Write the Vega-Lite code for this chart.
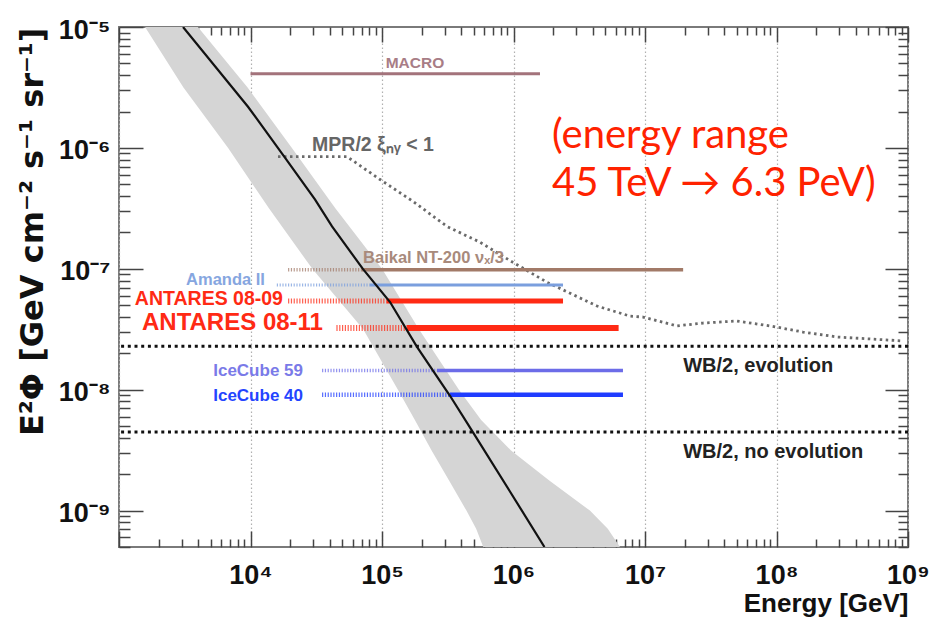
{
  "$schema": "https://vega.github.io/schema/vega-lite/v6.json",
  "width": 789,
  "height": 520,
  "autosize": {"type": "none"},
  "padding": {"left": 119, "top": 27, "right": 21, "bottom": 74},
  "background": "white",
  "config": {"view": {"stroke": "#7a7a7a", "strokeWidth": 2}, "font": "Liberation Sans"},
  "datasets": {
    "band": [
      {"F": 1e-5, "L": 1578, "R": 3981},
      {"F": 3.162e-6, "L": 3090, "R": 9506},
      {"F": 1e-6, "L": 6761, "R": 20654},
      {"F": 3.162e-7, "L": 13804, "R": 44157},
      {"F": 1e-7, "L": 29512, "R": 100000},
      {"F": 3.162e-8, "L": 71945, "R": 190985},
      {"F": 1e-8, "L": 132130, "R": 384592},
      {"F": 5.623e-9, "L": 177828, "R": 567545},
      {"F": 3.162e-9, "L": 237684, "R": 952796},
      {"F": 1.778e-9, "L": 323594, "R": 1870868},
      {"F": 1e-9, "L": 438531, "R": 3810719},
      {"F": 7.08e-10, "L": 520000, "R": 5210000},
      {"F": 5e-10, "L": 588844, "R": 6456542}
    ],
    "fit": [
      {"E": 3069, "F": 1e-5},
      {"E": 9572, "F": 2.19e-6},
      {"E": 18281, "F": 8.32e-7},
      {"E": 30903, "F": 3.75e-7},
      {"E": 41687, "F": 2.24e-7},
      {"E": 71779, "F": 9.93e-8},
      {"E": 115080, "F": 5.31e-8},
      {"E": 184502, "F": 2.26e-8},
      {"E": 328852, "F": 8.91e-9},
      {"E": 483059, "F": 4.58e-9},
      {"E": 939723, "F": 1.44e-9},
      {"E": 1720000, "F": 5e-10}
    ],
    "mpr": [
      {"E": 16181, "F": 8.47e-7},
      {"E": 54200, "F": 8.47e-7},
      {"E": 96605, "F": 5.48e-7},
      {"E": 172187, "F": 3.61e-7},
      {"E": 311889, "F": 2.24e-7},
      {"E": 555904, "F": 1.66e-7},
      {"E": 990832, "F": 1.13e-7},
      {"E": 1798871, "F": 7.74e-8},
      {"E": 4315191, "F": 4.92e-8},
      {"E": 7691304, "F": 4.06e-8},
      {"E": 9660000, "F": 3.99e-8},
      {"E": 17500000, "F": 3.37e-8},
      {"E": 27600000, "F": 3.56e-8},
      {"E": 50100000, "F": 3.7e-8},
      {"E": 89300000, "F": 3.37e-8},
      {"E": 159000000, "F": 3.0e-8},
      {"E": 288000000, "F": 2.73e-8},
      {"E": 514000000, "F": 2.63e-8},
      {"E": 916000000, "F": 2.53e-8}
    ],
    "wb": [
      {"name": "WB/2, evolution", "F": 2.29e-8},
      {"name": "WB/2, no evolution", "F": 4.47e-9}
    ],
    "exps": [
      {"name": "MACRO", "F": 4.1e-6, "E1": 10000, "E2": 10000, "E3": 1590000},
      {"name": "Baikal", "F": 9.8e-8, "E1": 19300, "E2": 70500, "E3": 19500000},
      {"name": "Amanda", "F": 7.33e-8, "E1": 15850, "E2": 81100, "E3": 2380000},
      {"name": "ANTARES0809", "F": 5.41e-8, "E1": 19300, "E2": 109000, "E3": 2380000},
      {"name": "ANTARES0811", "F": 3.24e-8, "E1": 45000, "E2": 155000, "E3": 6300000},
      {"name": "IceCube59", "F": 1.44e-8, "E1": 35000, "E2": 261600, "E3": 6800000},
      {"name": "IceCube40", "F": 9.08e-9, "E1": 35000, "E2": 329000, "E3": 6800000}
    ],
    "rlabels": [
      {"key": "Amanda", "text": "Amanda II", "E": 12880, "F": 8.05e-8},
      {"key": "ANTARES0809", "text": "ANTARES 08-09", "E": 17650, "F": 5.61e-8},
      {"key": "ANTARES0811", "text": "ANTARES 08-11", "E": 35560, "F": 3.56e-8},
      {"key": "IceCube59", "text": "IceCube 59", "E": 25060, "F": 1.43e-8},
      {"key": "IceCube40", "text": "IceCube 40", "E": 25060, "F": 8.9e-9}
    ],
    "llabels": [
      {"key": "MPR", "text": "MPR/2 ξₙᵧ < 1", "E": 29400, "F": 1.06e-6},
      {"key": "Baikal", "text": "Baikal NT-200 νₓ/3", "E": 71800, "F": 1.22e-7},
      {"key": "WBevo", "text": "WB/2, evolution", "E": 19500000, "F": 1.57e-8},
      {"key": "WBnoevo", "text": "WB/2, no evolution", "E": 19500000, "F": 3.05e-9}
    ],
    "clabels": [
      {"text": "MACRO", "E": 178200, "F": 5.0e-6}
    ],
    "note": [
      {"text": "(energy range", "E": 1965000, "F": 1.005e-6},
      {"text": "45 TeV → 6.3 PeV)", "E": 1965000, "F": 3.97e-7}
    ]
  },
  "resolve": {
    "axis": {"x": "independent", "y": "independent"},
    "scale": {"color": "independent", "size": "independent"}
  },
  "layer": [
    {
      "data": {"name": "band"},
      "mark": {"type": "area", "orient": "horizontal", "color": "#d5d5d5", "clip": true},
      "encoding": {
        "y": {
          "field": "F", "type": "quantitative",
          "scale": {"type": "log", "domain": [5e-10, 1e-5], "nice": false},
          "axis": {
            "orient": "left",
            "values": [5e-10, 6e-10, 7e-10, 8e-10, 9e-10, 1e-9, 2e-9, 3e-9, 4e-9, 5e-9, 6e-9, 7e-9, 8e-9, 9e-9, 1e-8, 2e-8, 3e-8, 4e-8, 5e-8, 6e-8, 7e-8, 8e-8, 9e-8, 1e-7, 2e-7, 3e-7, 4e-7, 5e-7, 6e-7, 7e-7, 8e-7, 9e-7, 1e-6, 2e-6, 3e-6, 4e-6, 5e-6, 6e-6, 7e-6, 8e-6, 9e-6, 1e-5],
            "labelExpr": "abs(log(datum.value)/LN10 - round(log(datum.value)/LN10)) < 0.01 ? '10⁻' + substring('⁰¹²³⁴⁵⁶⁷⁸⁹', -round(log(datum.value)/LN10), -round(log(datum.value)/LN10) + 1) : ''",
            "labelFlush": false,
            "labelOverlap": false,
            "labelFont": "Liberation Sans",
            "labelFontWeight": "bold",
            "labelFontSize": 27,
            "labelColor": "#111111",
            "labelPadding": 33,
            "labelOffset": 3,
            "tickColor": "#444444",
            "tickWidth": 1.5,
            "tickSize": {"condition": {"test": "abs(log(datum.value)/LN10 - round(log(datum.value)/LN10)) < 0.01", "value": -24}, "value": -11},
            "domain": false,
            "grid": false,
            "title": "E²Φ [GeV cm⁻² s⁻¹ sr⁻¹]",
            "titleFont": "DejaVu Sans",
            "titleFontWeight": "bold",
            "titleFontSize": 32,
            "titleColor": "#111111",
            "titleAngle": 270,
            "titleAlign": "right",
            "titleBaseline": "middle",
            "titleX": -87,
            "titleY": 0
          }
        },
        "x": {
          "field": "L", "type": "quantitative",
          "scale": {"type": "log", "domain": [1000, 1e9], "nice": false},
          "axis": {
            "orient": "bottom",
            "values": [1e3, 2e3, 3e3, 4e3, 5e3, 6e3, 7e3, 8e3, 9e3, 1e4, 2e4, 3e4, 4e4, 5e4, 6e4, 7e4, 8e4, 9e4, 1e5, 2e5, 3e5, 4e5, 5e5, 6e5, 7e5, 8e5, 9e5, 1e6, 2e6, 3e6, 4e6, 5e6, 6e6, 7e6, 8e6, 9e6, 1e7, 2e7, 3e7, 4e7, 5e7, 6e7, 7e7, 8e7, 9e7, 1e8, 2e8, 3e8, 4e8, 5e8, 6e8, 7e8, 8e8, 9e8, 1e9],
            "labelExpr": "(abs(log(datum.value)/LN10 - round(log(datum.value)/LN10)) < 0.01 && round(log(datum.value)/LN10) >= 4) ? '10' + substring('⁰¹²³⁴⁵⁶⁷⁸⁹', round(log(datum.value)/LN10), round(log(datum.value)/LN10) + 1) : ''",
            "labelFlush": false,
            "labelOverlap": false,
            "labelFont": "Liberation Sans",
            "labelFontWeight": "bold",
            "labelFontSize": 27,
            "labelColor": "#111111",
            "labelPadding": 31,
            "tickColor": "#444444",
            "tickWidth": 1.5,
            "tickSize": {"condition": {"test": "abs(log(datum.value)/LN10 - round(log(datum.value)/LN10)) < 0.01", "value": -16}, "value": -8},
            "domain": false,
            "grid": true,
            "gridColor": "#b0b0b0",
            "gridDash": [1.5, 2.5],
            "gridWidth": 1.2,
            "gridOpacity": {"condition": {"test": "abs(log(datum.value)/LN10 - round(log(datum.value)/LN10)) < 0.01", "value": 1}, "value": 0},
            "title": "Energy [GeV]",
            "titleFont": "Liberation Sans",
            "titleFontWeight": "bold",
            "titleFontSize": 26,
            "titleColor": "#111111",
            "titleAnchor": "end",
            "titleAlign": "right",
            "titleBaseline": "middle",
            "titleX": 789,
            "titleY": 56
          }
        },
        "x2": {"field": "R"}
      }
    },
    {
      "data": {"name": "mpr"},
      "mark": {"type": "line", "color": "#6a6a6a", "strokeWidth": 2.8, "strokeDash": [2.5, 3.5], "clip": true},
      "encoding": {
        "x": {"field": "E", "type": "quantitative", "scale": {"type": "log", "domain": [1000, 1e9], "nice": false}, "axis": null},
        "y": {"field": "F", "type": "quantitative", "scale": {"type": "log", "domain": [5e-10, 1e-5], "nice": false}, "axis": null}
      }
    },
    {
      "data": {"name": "wb"},
      "mark": {"type": "rule", "color": "#111111", "strokeWidth": 3, "strokeDash": [3, 3.7]},
      "encoding": {
        "y": {"field": "F", "type": "quantitative", "scale": {"type": "log", "domain": [5e-10, 1e-5], "nice": false}, "axis": null}
      }
    },
    {
      "data": {"name": "exps"},
      "transform": [{"filter": "datum.E1 < datum.E2"}],
      "mark": {"type": "rule", "strokeDash": [1.2, 1.6], "opacity": 0.75},
      "encoding": {
        "x": {"field": "E1", "type": "quantitative", "scale": {"type": "log", "domain": [1000, 1e9], "nice": false}, "axis": null},
        "x2": {"field": "E2"},
        "y": {"field": "F", "type": "quantitative", "scale": {"type": "log", "domain": [5e-10, 1e-5], "nice": false}, "axis": null},
        "color": {"field": "name", "type": "nominal", "legend": null, "scale": {"domain": ["MACRO", "Baikal", "Amanda", "ANTARES0809", "ANTARES0811", "IceCube59", "IceCube40"], "range": ["#a3737b", "#a27a68", "#7b9fde", "#ff2a14", "#ff2a14", "#6c6ce8", "#1f3cff"]}},
        "size": {"field": "name", "type": "nominal", "legend": null, "scale": {"type": "ordinal", "domain": ["MACRO", "Baikal", "Amanda", "ANTARES0809", "ANTARES0811", "IceCube59", "IceCube40"], "range": [3, 3.5, 3, 5, 6, 3.5, 4.5]}}
      }
    },
    {
      "data": {"name": "exps"},
      "mark": {"type": "rule"},
      "encoding": {
        "x": {"field": "E2", "type": "quantitative", "scale": {"type": "log", "domain": [1000, 1e9], "nice": false}, "axis": null},
        "x2": {"field": "E3"},
        "y": {"field": "F", "type": "quantitative", "scale": {"type": "log", "domain": [5e-10, 1e-5], "nice": false}, "axis": null},
        "color": {"field": "name", "type": "nominal", "legend": null, "scale": {"domain": ["MACRO", "Baikal", "Amanda", "ANTARES0809", "ANTARES0811", "IceCube59", "IceCube40"], "range": ["#a3737b", "#a27a68", "#7b9fde", "#ff2a14", "#ff2a14", "#6c6ce8", "#1f3cff"]}},
        "size": {"field": "name", "type": "nominal", "legend": null, "scale": {"type": "ordinal", "domain": ["MACRO", "Baikal", "Amanda", "ANTARES0809", "ANTARES0811", "IceCube59", "IceCube40"], "range": [3, 3.5, 3, 5, 6, 3.5, 4.5]}}
      }
    },
    {
      "data": {"name": "fit"},
      "mark": {"type": "line", "color": "#111111", "strokeWidth": 2.2, "clip": true},
      "encoding": {
        "x": {
          "field": "E", "type": "quantitative",
          "scale": {"type": "log", "domain": [1000, 1e9], "nice": false},
          "axis": {
            "orient": "top",
            "values": [1e3, 2e3, 3e3, 4e3, 5e3, 6e3, 7e3, 8e3, 9e3, 1e4, 2e4, 3e4, 4e4, 5e4, 6e4, 7e4, 8e4, 9e4, 1e5, 2e5, 3e5, 4e5, 5e5, 6e5, 7e5, 8e5, 9e5, 1e6, 2e6, 3e6, 4e6, 5e6, 6e6, 7e6, 8e6, 9e6, 1e7, 2e7, 3e7, 4e7, 5e7, 6e7, 7e7, 8e7, 9e7, 1e8, 2e8, 3e8, 4e8, 5e8, 6e8, 7e8, 8e8, 9e8, 1e9],
            "labels": false,
            "domain": false,
            "grid": false,
            "title": null,
            "tickColor": "#444444",
            "tickWidth": 1.5,
            "tickSize": {"condition": {"test": "abs(log(datum.value)/LN10 - round(log(datum.value)/LN10)) < 0.01", "value": -15}, "value": -8}
          }
        },
        "y": {
          "field": "F", "type": "quantitative",
          "scale": {"type": "log", "domain": [5e-10, 1e-5], "nice": false},
          "axis": {
            "orient": "right",
            "values": [5e-10, 6e-10, 7e-10, 8e-10, 9e-10, 1e-9, 2e-9, 3e-9, 4e-9, 5e-9, 6e-9, 7e-9, 8e-9, 9e-9, 1e-8, 2e-8, 3e-8, 4e-8, 5e-8, 6e-8, 7e-8, 8e-8, 9e-8, 1e-7, 2e-7, 3e-7, 4e-7, 5e-7, 6e-7, 7e-7, 8e-7, 9e-7, 1e-6, 2e-6, 3e-6, 4e-6, 5e-6, 6e-6, 7e-6, 8e-6, 9e-6, 1e-5],
            "labels": false,
            "domain": false,
            "grid": false,
            "title": null,
            "tickColor": "#444444",
            "tickWidth": 1.5,
            "tickSize": {"condition": {"test": "abs(log(datum.value)/LN10 - round(log(datum.value)/LN10)) < 0.01", "value": -23}, "value": -10}
          }
        }
      }
    },
    {
      "data": {"name": "rlabels"},
      "mark": {"type": "text", "align": "right", "baseline": "middle", "font": "Liberation Sans", "fontWeight": "bold"},
      "encoding": {
        "x": {"field": "E", "type": "quantitative", "scale": {"type": "log", "domain": [1000, 1e9], "nice": false}, "axis": null},
        "y": {"field": "F", "type": "quantitative", "scale": {"type": "log", "domain": [5e-10, 1e-5], "nice": false}, "axis": null},
        "text": {"field": "text"},
        "color": {"field": "key", "type": "nominal", "legend": null, "scale": {"domain": ["Amanda", "ANTARES0809", "ANTARES0811", "IceCube59", "IceCube40"], "range": ["#86a6e0", "#ff2a14", "#ff2a14", "#7a7ae8", "#2444ff"]}},
        "size": {"field": "key", "type": "nominal", "legend": null, "scale": {"type": "ordinal", "domain": ["Amanda", "ANTARES0809", "ANTARES0811", "IceCube59", "IceCube40"], "range": [16.5, 19.5, 24, 17, 17]}}
      }
    },
    {
      "data": {"name": "llabels"},
      "mark": {"type": "text", "align": "left", "baseline": "middle", "font": "Liberation Sans", "fontWeight": "bold"},
      "encoding": {
        "x": {"field": "E", "type": "quantitative", "scale": {"type": "log", "domain": [1000, 1e9], "nice": false}, "axis": null},
        "y": {"field": "F", "type": "quantitative", "scale": {"type": "log", "domain": [5e-10, 1e-5], "nice": false}, "axis": null},
        "text": {"field": "text"},
        "color": {"field": "key", "type": "nominal", "legend": null, "scale": {"domain": ["MPR", "Baikal", "WBevo", "WBnoevo"], "range": ["#666666", "#a88a7c", "#222222", "#222222"]}},
        "size": {"field": "key", "type": "nominal", "legend": null, "scale": {"type": "ordinal", "domain": ["MPR", "Baikal", "WBevo", "WBnoevo"], "range": [19.5, 16.5, 20, 20]}}
      }
    },
    {
      "data": {"name": "clabels"},
      "mark": {"type": "text", "align": "center", "baseline": "middle", "font": "Liberation Sans", "fontWeight": "bold", "fontSize": 15.5, "color": "#a87d86"},
      "encoding": {
        "x": {"field": "E", "type": "quantitative", "scale": {"type": "log", "domain": [1000, 1e9], "nice": false}, "axis": null},
        "y": {"field": "F", "type": "quantitative", "scale": {"type": "log", "domain": [5e-10, 1e-5], "nice": false}, "axis": null},
        "text": {"field": "text"}
      }
    },
    {
      "data": {"name": "note"},
      "mark": {"type": "text", "align": "left", "baseline": "alphabetic", "font": "Lato", "fontSize": 40, "color": "#ff2200"},
      "encoding": {
        "x": {"field": "E", "type": "quantitative", "scale": {"type": "log", "domain": [1000, 1e9], "nice": false}, "axis": null},
        "y": {"field": "F", "type": "quantitative", "scale": {"type": "log", "domain": [5e-10, 1e-5], "nice": false}, "axis": null},
        "text": {"field": "text"}
      }
    }
  ]
}
